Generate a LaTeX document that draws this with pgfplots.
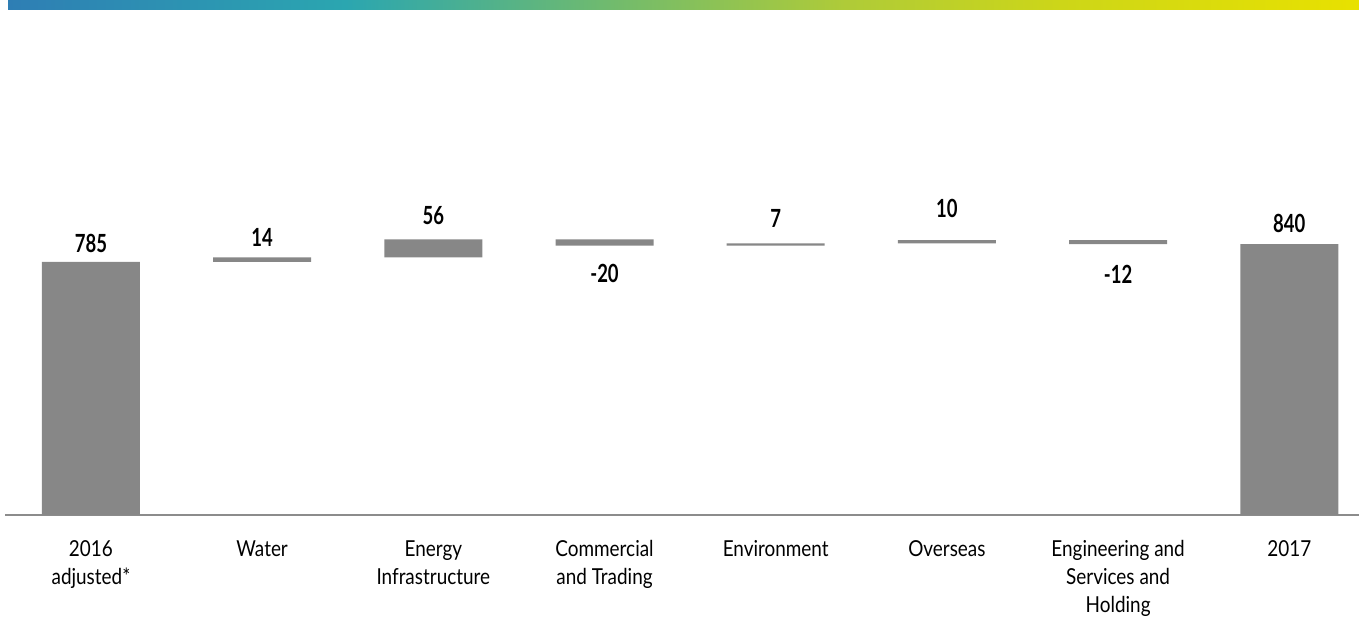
\documentclass[border=0pt]{standalone}
\usepackage{pgfplots}
\pgfplotsset{compat=1.18}
\usepackage{pgfplotstable}
\usepackage{fontspec}
\setmainfont[FakeStretch=0.86]{Lato}
\newfontfamily\valfont[FakeStretch=0.74]{Lato}
\definecolor{barg}{HTML}{878787}
\definecolor{axg}{HTML}{8C8C8C}
\definecolor{ga}{HTML}{2E7EB4}
\definecolor{gb}{HTML}{2BA6B0}
\definecolor{gc}{HTML}{72BB6C}
\definecolor{gd}{HTML}{AFCB38}
\definecolor{ge}{HTML}{CDD618}
\definecolor{gf}{HTML}{E8E100}
\pgfdeclarehorizontalshading{topbar}{100bp}{color(0bp)=(ga); color(25bp)=(ga); color(37.5bp)=(gb); color(47.5bp)=(gc); color(56bp)=(gd); color(64bp)=(ge); color(75bp)=(gf); color(100bp)=(gf)}
\pgfplotstableread{
x base delta
0 0 785
1 785 14
2 799 56
3 855 -20
4 835 7
5 842 10
6 852 -12
7 0 840
}\wf
\pgfplotstableread{
x y dy lbl
0 785 4.5 785
1 799 5 14
2 855 7 56
3 835 -18.5 -20
4 842 8 7
5 852 11 10
6 840 -20 -12
7 840 5.5 840
}\wflbl
\begin{document}
\begin{tikzpicture}
\useasboundingbox (0,0) rectangle (679.5pt,311.5pt);
\shade[shading=topbar] (4pt,306.5pt) rectangle (679.5pt,311.5pt);
\pgfplotsset{every axis/.append style={
  at={(2.5pt,54pt)}, anchor=south west,
  scale only axis, width=677pt, height=161.25pt,
  xmin=-0.502, xmax=7.407, ymin=0, ymax=1000, clip=false}}
\begin{axis}[
  hide y axis,
  axis x line*=bottom,
  x axis line style={-, draw=axg, line width=1pt},
  xtick=data, major tick length=0pt,
  xticklabels={{2016\\adjusted*},Water,{Energy\\Infrastructure},{Commercial\\and Trading},Environment,Overseas,{Engineering and\\Services and\\Holding},2017},
  xticklabel style={font=\fontsize{11}{14}\selectfont, align=center, anchor=north, inner sep=0pt, yshift=-12.5pt},
  ybar stacked, stack negative=on previous, bar width=49pt,
]
\addplot[draw=none, fill=none] table[x=x, y=base] {\wf};
\addplot[draw=none, fill=barg] table[x=x, y=delta] {\wf};
\end{axis}
\begin{axis}[hide axis]
\addplot[draw=none, mark=none,
  point meta=explicit symbolic,
  visualization depends on={\thisrow{dy}\as\dy},
  nodes near coords={\pgfplotspointmeta},
  every node near coord/.append style={font=\valfont\bfseries\fontsize{12.5}{14}\selectfont, inner sep=0pt, anchor=south, yshift=\dy pt, text=black},
] table[x=x, y=y, meta=lbl] {\wflbl};
\end{axis}
\end{tikzpicture}
\end{document}
